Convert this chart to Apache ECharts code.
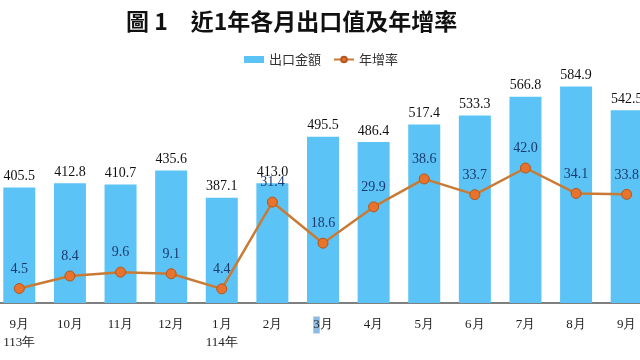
<!DOCTYPE html>
<html>
<head>
<meta charset="utf-8">
<script src="https://cdn.jsdelivr.net/npm/echarts@6/dist/echarts.min.js"></script>
<style>html,body{margin:0;padding:0;background:#fff;overflow:hidden;width:640px;height:360px}#c{width:658px;height:360px;margin-left:-6px}</style>
</head>
<body>
<div id="c"></div>
<script>
const categories = ['9月\n113年','10月','11月','12月','1月\n114年','2月','3月','4月','5月','6月','7月','8月','9月'];
const exportValues = [405.5, 412.8, 410.7, 435.6, 387.1, 413.0, 495.5, 486.4, 517.4, 533.3, 566.8, 584.9, 542.5];
const growthRates = [4.5, 8.4, 9.6, 9.1, 4.4, 31.4, 18.6, 29.9, 38.6, 33.7, 42.0, 34.1, 33.8];

const chart = echarts.init(document.getElementById('c'), null, {renderer: 'canvas'});
const serif = '"Liberation Serif", "Times New Roman", serif';
const cjk = '"Noto Sans CJK TC", "Noto Sans CJK SC", sans-serif';
chart.setOption({
  animation: false,
  backgroundColor: '#fff',
  title: {
    text: '圖 1　近1年各月出口值及年增率',
    left: 127, top: 5,
    textStyle: {fontFamily: cjk, fontWeight: 'bold', fontSize: 23, color: '#111'}
  },
  legend: {
    top: 48, left: 245,
    itemGap: 12,
    textStyle: {fontFamily: cjk, fontSize: 13, color: '#333'},
    data: [
      {name: '出口金額', icon: 'rect', itemStyle: {color: '#5BC3F5'}},
      {name: '年增率'}
    ],
    itemWidth: 20, itemHeight: 7
  },
  grid: {left: 0, right: 0, top: 78, bottom: 57, containLabel: false},
  xAxis: {
    type: 'category',
    data: categories,
    axisTick: {show: false},
    axisLine: {lineStyle: {color: '#555', width: 1.5}},
    axisLabel: {
      interval: 0, margin: 13,
      fontFamily: serif, fontSize: 13, color: '#222', lineHeight: 18,
      formatter: v => v === '3月' ? '{h|3}月' : v,
      rich: {h: {backgroundColor: '#8DBBE3', fontFamily: serif, fontSize: 13, color: '#222', padding: [2, 0, 2, 0]}}
    }
  },
  yAxis: [
    {type: 'value', min: 200, max: 600, show: false, splitLine: {show: false}},
    {type: 'value', min: 0, max: 70, show: false, splitLine: {show: false}}
  ],
  series: [
    {
      name: '出口金額', type: 'bar', data: exportValues, barWidth: 32,
      itemStyle: {color: '#5BC3F5'},
      label: {show: true, position: 'top', distance: 4, fontFamily: serif, fontSize: 14, color: '#111',
              formatter: p => p.value.toFixed(1)}
    },
    {
      name: '年增率', type: 'line', yAxisIndex: 1, data: growthRates,
      symbol: 'circle', symbolSize: 10,
      lineStyle: {color: '#C97B36', width: 2.5},
      itemStyle: {color: '#E8732C', borderColor: '#B5561E', borderWidth: 1},
      label: {show: true, position: 'top', distance: 7, fontFamily: serif, fontSize: 14, color: '#1C3A6E',
              formatter: p => p.value.toFixed(1)}
    }
  ]
});
</script>
</body>
</html>
